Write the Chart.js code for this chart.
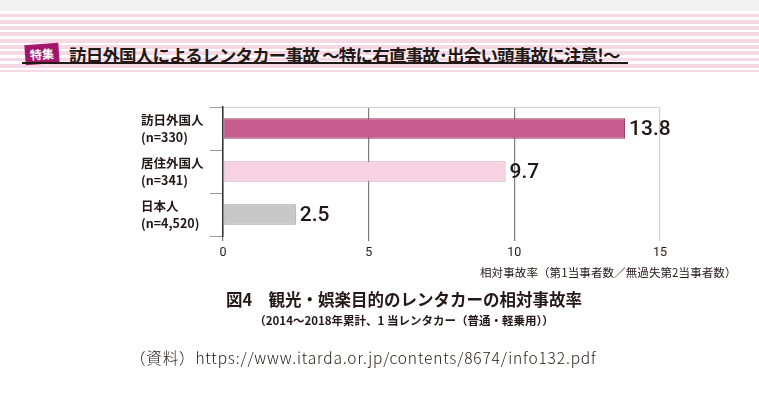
<!DOCTYPE html>
<html lang="ja">
<head>
<meta charset="utf-8">
<script src="https://cdn.jsdelivr.net/npm/chart.js@4/dist/chart.umd.min.js"></script>
<style>
  body { margin: 0; width: 759px; height: 396px; background: #fff; position: relative; overflow: hidden;
         font-family: "Noto Sans CJK JP", "Noto Sans", sans-serif; color: #231815; }
  .topband { position: absolute; left: 0; top: 0; width: 759px; height: 11px; background: #f2f2f2; }
  .stripes { position: absolute; left: 0; top: 11px; width: 759px; height: 61px;
             background: repeating-linear-gradient(180deg, #fff 0px, #fff 2.5px, #f7d8e5 2.5px, #f7d8e5 6.3px); }
  .badge { position: absolute; left: 25px; top: 44px; width: 34px; height: 20px; background: #a3166b;
           color: #fff; font-size: 12px; font-weight: 700; line-height: 20px; text-align: center;
           transform: rotate(-4deg); }
  .headline { position: absolute; left: 69px; top: 42px; font-size: 17.5px; font-weight: 700; letter-spacing: -0.8px;
              white-space: nowrap; color: #231815; }
  .rule { position: absolute; left: 22px; top: 62px; width: 606px; height: 2px; background: #231815; }
  #wrap { position: absolute; left: 0; top: 0; width: 759px; height: 396px; }
  .axtitle { position: absolute; left: 480px; top: 264px; font-size: 11.5px; white-space: nowrap; letter-spacing: 0.1px; }
  .cap { position: absolute; left: 0; width: 808px; text-align: center; white-space: nowrap; font-weight: 700; }
  .src { position: absolute; left: 130px; top: 346px; font-size: 15.5px; font-weight: 300; white-space: nowrap; letter-spacing: 0.85px; }
</style>
</head>
<body>
<div class="topband"></div>
<div class="stripes"></div>
<div class="badge">特集</div>
<div class="headline">訪日外国人によるレンタカー事故 ～特に右直事故･出会い頭事故に注意!～</div>
<div class="rule"></div>
<div id="wrap"><canvas id="accidentChart" width="759" height="396"></canvas></div>
<div class="axtitle">相対事故率（第1当事者数／無過失第2当事者数）</div>
<div class="cap" style="top:287px;font-size:16.5px;">図4　観光・娯楽目的のレンタカーの相対事故率</div>
<div class="cap" style="top:312px;font-size:11.5px;">（2014～2018年累計、1 当レンタカー（普通・軽乗用））</div>
<div class="src">（資料）https://www.itarda.or.jp/contents/8674/info132.pdf</div>
<script>
var groups = [['訪日外国人', '(n=330)'], ['居住外国人', '(n=341)'], ['日本人', '(n=4,520)']];
var rates = [13.8, 9.7, 2.5];
var xTicks = [0, 5, 10, 15];

var barColors = ['#c75b8d', '#f7d2e3', '#c8c8c8'];
var barBorders = ['#8f3d63', '#c9a3b6', '#9a9a9a'];

// value labels at the end of each bar
var valueLabels = {
    id: 'valueLabels',
    afterDatasetsDraw: function(chart) {
        var ctx = chart.ctx;
        var meta = chart.getDatasetMeta(0);
        ctx.save();
        ctx.font = '500 21px Roboto, "Noto Sans", sans-serif';
        ctx.fillStyle = '#231815';
        ctx.textAlign = 'left';
        ctx.textBaseline = 'middle';
        meta.data.forEach(function(bar, i) {
            ctx.fillText(rates[i].toFixed(1), bar.x + 4, bar.y + 1);
        });
        ctx.restore();
    }
};

var ctx = document.getElementById('accidentChart').getContext('2d');
var chart = new Chart(ctx, {
    type: 'bar',
    data: {
        labels: groups,
        datasets: [{
            data: rates,
            backgroundColor: barColors,
            borderColor: barBorders,
            borderWidth: 1,
            borderSkipped: false,
            categoryPercentage: 1,
            barPercentage: 0.48
        }]
    },
    options: {
        indexAxis: 'y',
        responsive: false,
        animation: false,
        layout: { padding: { left: 141, right: 99, top: 107, bottom: 132 } },
        plugins: { legend: { display: false }, tooltip: { enabled: false } },
        scales: {
            x: {
                min: 0,
                max: 15,
                afterBuildTicks: function(scale) {
                    scale.ticks = xTicks.map(function(v) { return { value: v }; });
                },
                grid: {
                    color: function(c) {
                        if (c.tick && c.tick.value === 15) return '#cfcfcf';
                        return '#7d7d7d';
                    },
                    lineWidth: 1.2,
                    tickLength: 5,
                    tickColor: function(c) {
                        return c.tick && c.tick.value === 15 ? '#cfcfcf' : '#7d7d7d';
                    }
                },
                border: { display: false },
                ticks: {
                    color: '#231815',
                    padding: 4,
                    font: { family: 'Roboto, "Noto Sans", sans-serif', size: 12.5 }
                }
            },
            y: {
                afterFit: function(scale) { scale.width = 82; },
                grid: {
                    offset: true,
                    color: function(c) {
                        if (c.index === 0) return '#d0d0d0';
                        if (c.index === groups.length) return '#9a9a9a';
                        return 'rgba(0,0,0,0)';
                    },
                    lineWidth: function(c) { return c.index === groups.length ? 2 : 1; },
                    tickColor: '#9a9a9a',
                    tickLength: 13,
                    drawOnChartArea: true
                },
                border: { color: '#333', width: 1.5 },
                ticks: {
                    crossAlign: 'far',
                    color: '#231815',
                    padding: 0,
                    font: { family: '"Noto Sans CJK JP", sans-serif', size: 12.5, weight: '700', lineHeight: 1.35 }
                }
            }
        }
    },
    plugins: [valueLabels]
});
</script>
</body>
</html>
